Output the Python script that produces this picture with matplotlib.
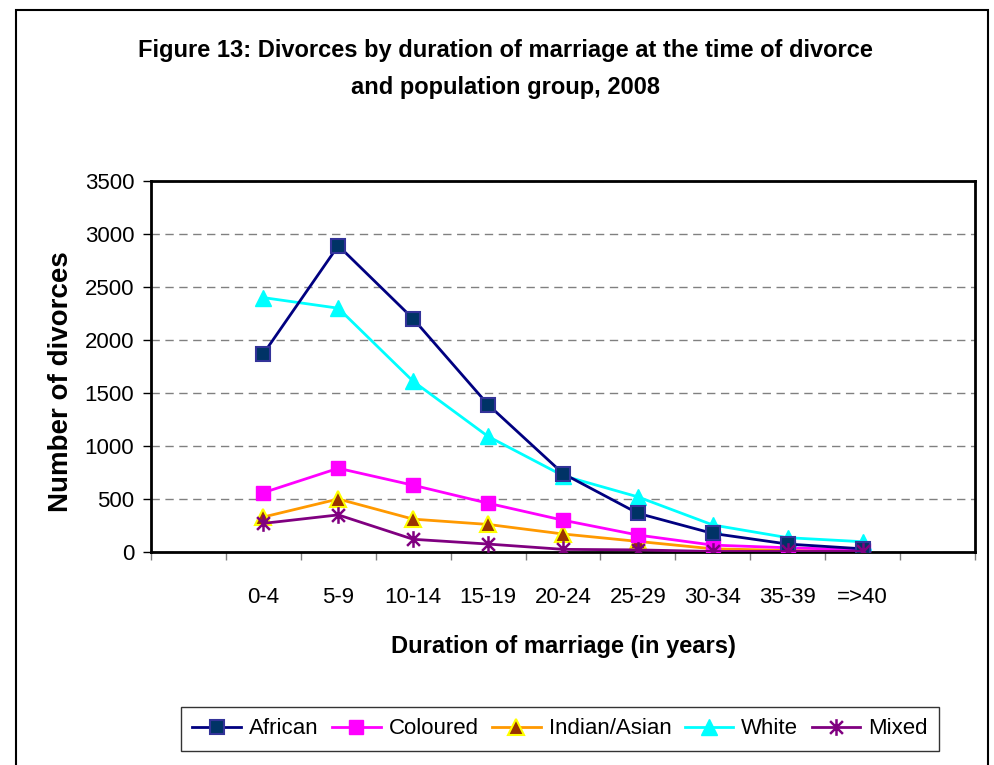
import matplotlib.pyplot as plt
import numpy as np
from matplotlib.path import Path
from matplotlib.patches import Rectangle

plt.rcParams['font.family'] = ['Liberation Sans', 'DejaVu Sans']

categories = ['0-4', '5-9', '10-14', '15-19', '20-24', '25-29', '30-34', '35-39', '=>40']
african = [1870, 2890, 2200, 1390, 740, 365, 175, 75, 30]
coloured = [560, 790, 630, 460, 300, 160, 65, 40, 20]
indian = [330, 500, 310, 260, 170, 100, 30, 15, 5]
white = [2400, 2300, 1610, 1090, 720, 520, 255, 135, 97]
mixed = [270, 350, 120, 75, 25, 20, 5, 5, 5]

# excel-like star marker: X plus a vertical bar
star = Path([(-1, -1), (1, 1), (-1, 1), (1, -1), (0, -1.3), (0, 1.3)],
            [Path.MOVETO, Path.LINETO, Path.MOVETO, Path.LINETO, Path.MOVETO, Path.LINETO])

fig = plt.figure(figsize=(9.94, 7.65), dpi=100)
ax = fig.add_axes([151/994, 1-552/765, (975-151)/994, (552-181)/765])

x = np.arange(1, len(categories) + 1)
ax.plot(x, african, color='#000080', lw=2, marker='s', ms=10, mfc='#003366', mec='#333399', mew=1.5, label='African', zorder=5)
ax.plot(x, coloured, color='#FF00FF', lw=2, marker='s', ms=10, mfc='#FF00FF', mec='#FF00FF', label='Coloured', zorder=4)
ax.plot(x, indian, color='#FF9900', lw=2, marker='^', ms=11, mfc='#993300', mec='#FFFF00', mew=1.5, label='Indian/Asian', zorder=3)
ax.plot(x, white, color='#00FFFF', lw=2, marker='^', ms=12, mfc='#00FFFF', mec='#00FFFF', label='White', zorder=4)
ax.plot(x, mixed, color='#800080', lw=2, marker=star, ms=12, mfc='none', mec='#800080', mew=1.8, label='Mixed', zorder=6)

ax.set_xlim(-0.5, 10.5)
ax.set_ylim(0, 3500)
ax.set_yticks(np.arange(0, 3501, 500))
ax.set_xticks(np.arange(-0.5, 11, 1))
ax.set_xticklabels([])
ax.set_xticks(x, minor=True)
ax.set_xticklabels(categories, minor=True)
ax.tick_params(axis='x', which='minor', length=0, pad=25, labelsize=16)
ax.tick_params(axis='x', which='major', length=6, width=1, color='#808080', direction='out')
ax.tick_params(axis='y', length=6, width=1, direction='out', labelsize=16, pad=6)
ax.yaxis.grid(True, ls=(0, (6, 4)), color='#808080', lw=1)
ax.set_axisbelow(True)
for s in ax.spines.values():
    s.set_linewidth(2)
    s.set_color('black')

ax.set_ylabel('Number of divorces', fontsize=20, fontweight='bold')
ax.yaxis.set_label_coords(-0.093, 0.46)
ax.set_xlabel('Duration of marriage (in years)', fontsize=17, fontweight='bold', labelpad=20)

fig.text(505/994, 1-69/765, 'Figure 13: Divorces by duration of marriage at the time of divorce\nand population group, 2008',
         ha='center', va='center', fontsize=17, fontweight='bold', linespacing=1.75)

leg = fig.legend(loc='center', bbox_to_anchor=(560/994, 1-729/765), ncol=5, fontsize=16,
                 frameon=True, fancybox=False, edgecolor='black', handlelength=2.2,
                 columnspacing=0.6, handletextpad=0.35, borderpad=0.5, borderaxespad=0)
leg.get_frame().set_linewidth(1)

fig.patches.append(Rectangle((16/994, -0.05), (988-16)/994, 1-10/765+0.05, transform=fig.transFigure,
                             fill=False, edgecolor='black', lw=1.5))

fig.savefig('out.png', dpi=100)
